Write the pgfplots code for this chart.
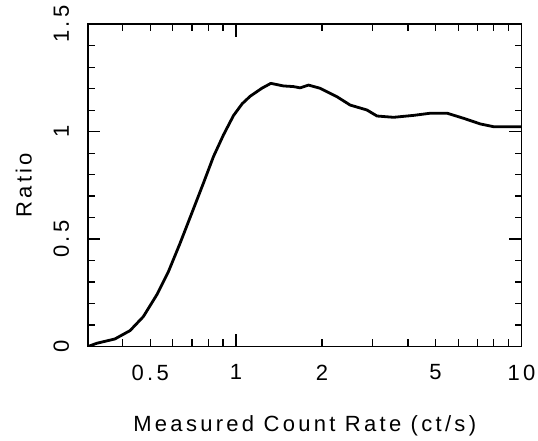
\documentclass[border=0pt]{standalone}
\usepackage{fontspec}
\setmainfont{Liberation Sans}
\newfontfamily\labfont[LetterSpace=15]{Liberation Sans}
\usepackage{pgfplots}
\pgfplotsset{compat=1.18}
\begin{document}
\begin{tikzpicture}
\begin{axis}[
  name=ax,
  scale only axis,
  width=433.5pt, height=322.2pt,
  xmode=log,
  xmin=0.3027, xmax=10,
  ymin=0, ymax=1.5,
  axis line style={line width=1.8pt},
  every tick/.style={line width=1.3pt, black},
  tick align=inside,
  xtick pos=both, ytick pos=both,
  xticklabel pos=lower, yticklabel pos=left,
  major tick length=12.5pt, minor tick length=7pt,
  xtick={1,10}, xticklabels={1,10},
  minor xtick={0.4,0.6,0.7,0.8,0.9,3,4,6,7,8,9},
  extra x ticks={0.5,2,5}, extra x tick labels={0.5,2,5},
  extra x tick style={major tick length=7pt},
  ytick={0,0.5,1,1.5}, yticklabels={0,0.5,1,1.5},
  minor y tick num=4,
  /pgf/number format/assume math mode=true,
  tick label style={font=\fontsize{22}{25}\labfont},
  xticklabel style={anchor=north, inner sep=0pt},
  xticklabel shift=18pt,
  yticklabel style={rotate=90, anchor=base, inner sep=0pt},
  yticklabel shift=19pt,
  label style={font=\fontsize{22}{25}\labfont},
  xlabel={Measured Count Rate (ct/s)},
  ylabel={Ratio},
  xlabel style={at={(axis description cs:0.5,-0.2644)}, anchor=base},
  ylabel style={at={(axis description cs:-0.130,0.5)}, anchor=base},
]
\addplot[black, line width=2.8pt, line join=round] coordinates {
(0.3027,0.0) (0.325,0.015) (0.376,0.035) (0.425,0.074) (0.473,0.139)
(0.527,0.24) (0.579,0.348) (0.636,0.48) (0.699,0.62) (0.768,0.76)
(0.833,0.884) (0.903,0.985) (0.979,1.075) (1.05,1.13) (1.12,1.165)
(1.23,1.202) (1.323,1.225) (1.466,1.213) (1.589,1.210) (1.677,1.204)
(1.794,1.217) (1.971,1.202) (2.255,1.163) (2.51,1.124) (2.874,1.101)
(3.117,1.073) (3.565,1.067) (4.19,1.076) (4.79,1.086) (5.49,1.086)
(6.28,1.062) (7.18,1.036) (8.0,1.023) (10,1.023)
};
\end{axis}
\useasboundingbox (ax.south west) ++(-88pt,-94.5pt) rectangle ++(538pt,441pt);
\end{tikzpicture}
\end{document}
